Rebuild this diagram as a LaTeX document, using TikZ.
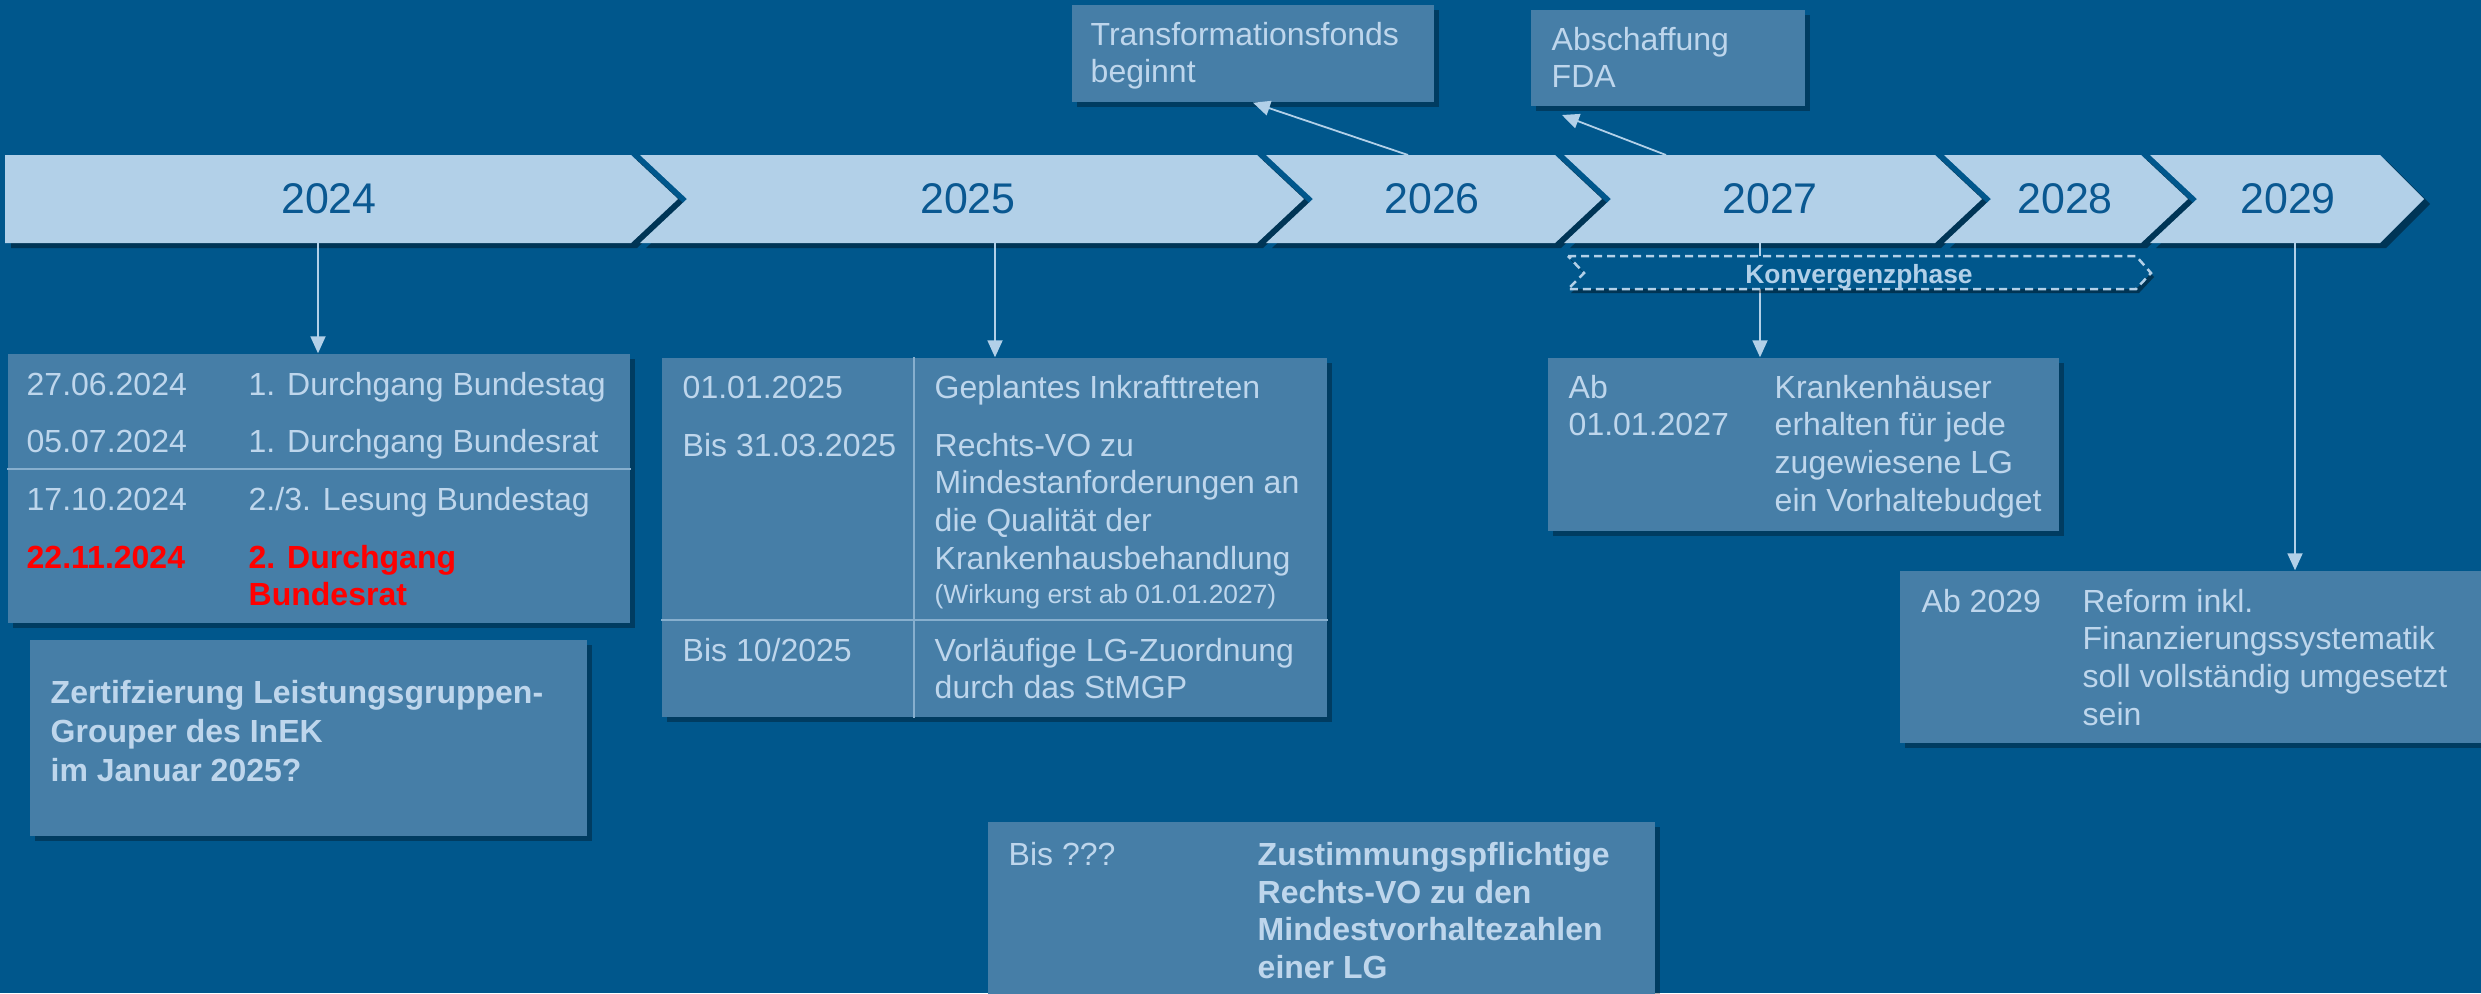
\documentclass[tikz,border=0pt]{standalone}
\usepackage{fontspec}
\setmainfont{Liberation Sans}
\usetikzlibrary{arrows.meta,shadows,fit}

\definecolor{bg}{RGB}{0,87,140}
\definecolor{band}{RGB}{178,208,232}
\definecolor{boxc}{RGB}{70,126,167}
\definecolor{txt}{RGB}{190,214,236}
\definecolor{yeartxt}{RGB}{10,88,145}
\definecolor{hot}{RGB}{255,0,0}

\newcommand\cellfont{\fontsize{9.1pt}{10.8pt}\selectfont}
\newcommand\lines[1]{\parbox[t]{10cm}{\raggedright #1}}

\tikzset{
  panel/.style={fill=boxc, draw=none, inner sep=0pt,
    drop shadow={shadow xshift=0.05cm, shadow yshift=-0.05cm, opacity=0.3, fill=black}},
  cell/.style={anchor=base west, inner sep=0pt, text=txt, font=\cellfont},
  boldcell/.style={cell, font=\cellfont\bfseries},
  hotcell/.style={cell, text=hot, font=\cellfont\bfseries},
  smallcell/.style={cell, font=\fontsize{7.5pt}{9pt}\selectfont},
  year/.style={text=yeartxt, font=\fontsize{12.2pt}{14pt}\selectfont, inner sep=0pt},
  seg/.style={fill=band,
    drop shadow={shadow xshift=0.06cm, shadow yshift=-0.05cm, opacity=0.55, fill=black!70!bg}},
  link/.style={draw=band, line width=0.018cm, -{Triangle[length=0.17cm,width=0.15cm]}},
  rule/.style={draw=band!60!boxc, line width=0.012cm},
  phase/.style={fill=bg, draw=band, line width=0.025cm, dash pattern=on 0.08cm off 0.05cm,
    drop shadow={shadow xshift=0.03cm, shadow yshift=-0.04cm, opacity=0.4, fill=black}},
}

\begin{document}
\begin{tikzpicture}[x=0.01cm, y=-0.01cm]
\useasboundingbox (0,0) rectangle (2481,993);
\fill[bg] (0,0) rectangle (2481,993);

% year band: chevron segments
\path[seg] (5,155) -- (631,155) -- (678,199) -- (631,243) -- (5,243) -- cycle;
\path[seg] (640,155) -- (1257,155) -- (1304,199) -- (1257,243) -- (640,243) -- (687,199) -- cycle;
\path[seg] (1266,155) -- (1555,155) -- (1602,199) -- (1555,243) -- (1266,243) -- (1313,199) -- cycle;
\path[seg] (1564,155) -- (1935,155) -- (1982,199) -- (1935,243) -- (1564,243) -- (1611,199) -- cycle;
\path[seg] (1944,155) -- (2141,155) -- (2188,199) -- (2141,243) -- (1944,243) -- (1991,199) -- cycle;
\path[seg] (2150,155) -- (2380,155) -- (2424,199) -- (2380,243) -- (2150,243) -- (2197,199) -- cycle;

\node[year] (y24) at (329,199) {2024};
\node[year] (y25) at (968,199) {2025};
\node[year] (y26) at (1432,199) {2026};
\node[year] (y27) at (1770,199) {2027};
\node[year] (y28) at (2065,199) {2028};
\node[year] (y29) at (2288,199) {2029};

% panels
\node[panel, fit={(1072,5) (1434,102)}] (tf) {};
\node[panel, fit={(1531,10) (1805,106)}] (fda) {};
\node[panel, fit={(8,354) (630,623)}] (t24) {};
\node[panel, fit={(30,640) (587,836)}] (zert) {};
\node[panel, fit={(662,358) (1327,717)}] (t25) {};
\node[panel, fit={(1548,358) (2059,531)}] (t27) {};
\node[panel, fit={(1900,571) (2495,743)}] (t29) {};
\node[panel, fit={(988,822) (1655,1010)}] (bis) {};

% connectors
\coordinate (s24) at (318,243);
\coordinate (s25) at (995,243);
\coordinate (s27) at (1760,243);
\coordinate (s29) at (2295,243);
\coordinate (s26t) at (1408,155);
\coordinate (s27t) at (1666,155);
\coordinate (e27t) at (1562,115);
\draw[link] (s24) -- (s24 |- t24.north);
\draw[link] (s25) -- (s25 |- t25.north);
\draw[link] (s27) -- (s27 |- t27.north);
\draw[link] (s29) -- (s29 |- t29.north);
\draw[link] (s26t) -- (tf.south);
\draw[link] (s27t) -- (e27t);

% convergence phase marker
\path[phase] (1568,256) -- (2136,256) -- (2151,273) -- (2136,289) -- (1568,289) -- (1584,273) -- cycle;
\node[text=band, font=\fontsize{7.5pt}{9pt}\selectfont\bfseries, inner sep=0pt, anchor=base] (kp) at (1859,283) {Konvergenzphase};

% table rules
\draw[rule] (t24.west |- 0,469) -- (t24.east |- 0,469);
\draw[rule] (914,0 |- t25.north) -- (914,0 |- t25.south);
\draw[rule] (t25.west |- 0,620) -- (t25.east |- 0,620);

% texts above the band
\node[cell] (tf1) at (1090,45) {\lines{Transformationsfonds\\beginnt}};
\node[cell] (fda1) at (1551,50) {\lines{Abschaffung\\FDA}};

% 2024
\node[cell] (d1) at (26,395) {27.06.2024};
\node[cell] (e1) at (248,395) {1. Durchgang Bundestag};
\node[cell] (d2) at (26,452) {05.07.2024};
\node[cell] (e2) at (248,452) {1. Durchgang Bundesrat};
\node[cell] (d3) at (26,510) {17.10.2024};
\node[cell] (e3) at (248,510) {2./3. Lesung Bundestag};
\node[hotcell] (d4) at (26,568) {22.11.2024};
\node[hotcell] (e4) at (248,568) {\lines{2. Durchgang\\Bundesrat}};

\node[boldcell, font=\fontsize{9.1pt}{11.1pt}\selectfont\bfseries] (z1) at (50,703)
  {\lines{Zertifzierung Leistungsgruppen-\\Grouper des InEK\\im Januar 2025?}};

% 2025
\node[cell] (f1) at (682,398) {01.01.2025};
\node[cell] (g1) at (934,398) {Geplantes Inkrafttreten};
\node[cell] (f2) at (682,456) {Bis 31.03.2025};
\node[cell] (g2) at (934,456) {\lines{Rechts-VO zu\\Mindestanforderungen an\\die Qualität der\\Krankenhausbehandlung}};
\node[smallcell] (g2b) at (934,603) {(Wirkung erst ab 01.01.2027)};
\node[cell] (f3) at (682,661) {Bis 10/2025};
\node[cell] (g3) at (934,661) {\lines{Vorläufige LG-Zuordnung\\durch das StMGP}};

% 2027
\node[cell] (h1) at (1568,398) {\lines{Ab\\01.01.2027}};
\node[cell] (k1) at (1774,398) {\lines{Krankenhäuser\\erhalten für jede\\zugewiesene LG\\ein Vorhaltebudget}};

% 2029
\node[cell] (m1) at (1921,612) {Ab 2029};
\node[cell] (n1) at (2082,612) {\lines{Reform inkl.\\Finanzierungssystematik\\soll vollständig umgesetzt\\sein}};

% open date
\node[cell] (p1) at (1008,865) {Bis ???};
\node[boldcell] (q1) at (1257,865) {\lines{Zustimmungspflichtige\\Rechts-VO zu den\\Mindestvorhaltezahlen\\einer LG}};
\end{tikzpicture}
\end{document}
